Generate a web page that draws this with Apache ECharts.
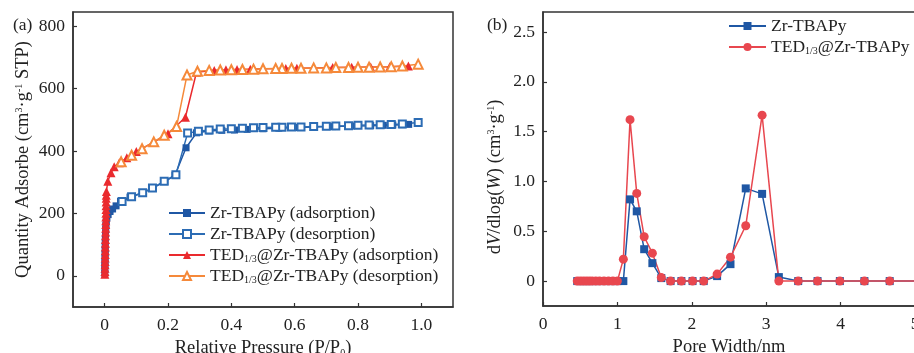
<!DOCTYPE html>
<html>
<head>
<meta charset="utf-8">
<script src="https://cdn.jsdelivr.net/npm/echarts@6/dist/echarts.min.js"></script>
<style>
  html, body { margin: 0; padding: 0; background: #fff; }
  #main { width: 914px; height: 353px; }
</style>
</head>
<body>
<div id="main"></div>
<script>
// (a) N2 isotherms: relative pressure P/P0 and quantity adsorbed
var zrAdsP = [0.0004, 0.0006, 0.0008, 0.001, 0.0012, 0.0014, 0.0016, 0.0018, 0.002, 0.0024, 0.0028, 0.0034, 0.004, 0.005, 0.007, 0.011, 0.017, 0.025, 0.036, 0.05, 0.08, 0.12, 0.15, 0.19, 0.222, 0.257, 0.29, 0.33, 0.37, 0.41, 0.45, 0.50, 0.55, 0.60, 0.66, 0.72, 0.78, 0.84, 0.88, 0.91, 0.94, 0.96];
var zrAdsQ = [8, 20, 33, 46, 59, 72, 85, 98, 111, 124, 137, 150, 162, 174, 185, 196, 206, 214, 224, 238, 252, 266, 280, 302, 322, 410, 458, 464, 466, 467, 469, 471, 473, 475, 477, 478, 480, 481, 482, 483, 484, 485];
var zrDesP = [0.99, 0.94, 0.905, 0.87, 0.835, 0.80, 0.77, 0.73, 0.70, 0.66, 0.62, 0.59, 0.56, 0.54, 0.50, 0.47, 0.435, 0.40, 0.365, 0.33, 0.296, 0.262, 0.225, 0.188, 0.151, 0.12, 0.085, 0.055];
var zrDesQ = [491, 486, 485, 484, 483, 482, 481, 480, 479, 478, 477, 477, 476, 476, 475, 474, 473, 471, 470, 467, 463, 457, 324, 303, 281, 266, 253, 238];
var tedAdsP = [0.0006, 0.0008, 0.001, 0.0012, 0.0014, 0.0016, 0.0018, 0.002, 0.0022, 0.0024, 0.0026, 0.0028, 0.003, 0.0032, 0.0034, 0.0036, 0.0038, 0.004, 0.0042, 0.0044, 0.0046, 0.0048, 0.005, 0.0055, 0.01, 0.02, 0.03, 0.046, 0.07, 0.10, 0.155, 0.20, 0.255, 0.29, 0.346, 0.383, 0.418, 0.46, 0.50, 0.572, 0.607, 0.66, 0.72, 0.78, 0.84, 0.90, 0.959];
var tedAdsQ = [5, 14, 24, 35, 46, 57, 68, 80, 92, 104, 116, 128, 140, 152, 164, 176, 188, 200, 212, 224, 236, 248, 258, 270, 303, 330, 349, 362, 378, 398, 428, 455, 508, 652, 658, 660, 661, 662, 663, 664, 665, 666, 667, 668, 669, 670, 672];
var tedDesP = [0.99, 0.94, 0.905, 0.87, 0.835, 0.80, 0.77, 0.73, 0.70, 0.66, 0.62, 0.59, 0.56, 0.54, 0.50, 0.47, 0.435, 0.40, 0.365, 0.33, 0.293, 0.26, 0.227, 0.188, 0.155, 0.118, 0.085, 0.052];
var tedDesQ = [678, 672, 670, 669, 668, 668, 667, 667, 666, 666, 665, 665, 664, 664, 663, 662, 661, 660, 659, 658, 655, 643, 478, 450, 429, 407, 386, 365];

// (b) pore size distribution
var poreWidth = [0.46, 0.50, 0.54, 0.58, 0.62, 0.66, 0.71, 0.76, 0.82, 0.88, 0.94, 1.00, 1.08, 1.17, 1.26, 1.36, 1.47, 1.59, 1.715, 1.86, 2.01, 2.16, 2.34, 2.52, 2.725, 2.945, 3.17, 3.43, 3.69, 3.99, 4.32, 4.66, 5.05];
var zrPsd = [0, 0, 0, 0, 0, 0, 0, 0, 0, 0, 0, 0, 0, 0.82, 0.70, 0.32, 0.18, 0.03, 0, 0, 0, 0, 0.05, 0.17, 0.93, 0.875, 0.04, 0, 0, 0, 0, 0, 0];
var tedPsd = [0, 0, 0, 0, 0, 0, 0, 0, 0, 0, 0, 0, 0.22, 1.62, 0.88, 0.445, 0.28, 0.035, 0, 0, 0, 0, 0.07, 0.24, 0.555, 1.665, 0, 0, 0, 0, 0, 0, 0];

var isoTicksX = [0, 0.2, 0.4, 0.6, 0.8, 1.0];
var isoTicksY = [0, 200, 400, 600, 800];
var psdTicksY = [0, 0.5, 1.0, 1.5, 2.0, 2.5];

var FONT = "'Liberation Serif', 'Times New Roman', serif";
var BLUE = '#1f57a4';
var BLUE2 = '#2c6cb4';
var RED = '#ea2a2e';
var ORANGE = '#f5893a';
var PINK = '#e8474f';

function pairs(xs, ys) {
    return xs.map(function (x, i) { return [x, ys[i]]; });
}

function tedName(name) {
    return name.replace('TED1/3', 'TED{sub|1/3}');
}

var richText = {
    sub: { fontSize: 10, fontFamily: FONT, color: '#222', verticalAlign: 'bottom', padding: [8, 0, 0, 0] },
    sup: { fontSize: 10, fontFamily: FONT, color: '#222', verticalAlign: 'top', padding: [0, 0, 8, 0] },
    i: { fontSize: 18.5, fontFamily: FONT, color: '#222', fontStyle: 'italic' }
};

var axisCommon = {
    axisLine: { show: true, onZero: false, lineStyle: { color: '#333', width: 1.5 } },
    axisTick: { show: true, inside: true, length: 4, lineStyle: { color: '#333', width: 1.2 } },
    splitLine: { show: false },
    axisLabel: { color: '#222', fontSize: 17.5, fontFamily: FONT },
    nameTextStyle: { color: '#222', fontSize: 18.5, fontFamily: FONT, rich: richText }
};

function ax(extra) {
    return echarts.util.merge(echarts.util.clone(axisCommon), extra, true);
}

var chart = echarts.init(document.getElementById('main'));

var option = {
    backgroundColor: '#fff',
    animation: false,
    title: [
        { text: '(a)', left: 8, top: 11, textStyle: { fontSize: 17.5, fontWeight: 'normal', fontFamily: FONT, color: '#222' } },
        { text: '(b)', left: 482, top: 11, textStyle: { fontSize: 17.5, fontWeight: 'normal', fontFamily: FONT, color: '#222' } }
    ],
    grid: [
        { left: 73, top: 12, right: 461, bottom: 46, outerBoundsMode: 'none', containLabel: false, show: true, borderColor: '#333', borderWidth: 1.5, backgroundColor: 'transparent' },
        { left: 543, top: 12, right: -1, bottom: 47, outerBoundsMode: 'none', containLabel: false, show: true, borderColor: '#333', borderWidth: 1.5, backgroundColor: 'transparent' }
    ],
    legend: [
        {
            data: ['Zr-TBAPy (adsorption)', 'Zr-TBAPy (desorption)', 'TED1/3@Zr-TBAPy (adsorption)', 'TED1/3@Zr-TBAPy (desorption)'],
            orient: 'vertical', left: 163, top: 199, itemWidth: 36, itemHeight: 10, itemGap: 3,
            formatter: tedName,
            textStyle: { fontSize: 17.5, fontFamily: FONT, color: '#222', rich: richText }
        },
        {
            data: ['Zr-TBAPy', 'TED1/3@Zr-TBAPy'],
            orient: 'vertical', left: 723, top: 12, itemWidth: 37, itemHeight: 10, itemGap: 3,
            formatter: tedName,
            textStyle: { fontSize: 17.5, fontFamily: FONT, color: '#222', rich: richText }
        }
    ],
    xAxis: [
        ax({
            gridIndex: 0, type: 'value', min: -0.1, max: 1.1,
            name: 'Relative Pressure (P/P{sub|0})', nameLocation: 'middle', nameGap: 25,
            axisLabel: { margin: 9, customValues: isoTicksX, formatter: function (v) { return v === 0 ? '0' : v.toFixed(1); } },
            axisTick: { customValues: isoTicksX }
        }),
        ax({
            gridIndex: 1, type: 'value', min: 0, max: 5, interval: 1,
            name: 'Pore Width/nm', nameLocation: 'middle', nameGap: 25,
            axisLabel: { margin: 9 }
        })
    ],
    yAxis: [
        ax({
            gridIndex: 0, type: 'value', min: -100, max: 845,
            name: 'Quantity Adsorbe (cm{sup|3}·g{sup|-1} STP)', nameLocation: 'middle', nameGap: 40,
            axisLabel: { margin: 8, customValues: isoTicksY },
            axisTick: { customValues: isoTicksY }
        }),
        ax({
            gridIndex: 1, type: 'value', min: -0.25, max: 2.7,
            name: 'd{i|V}/dlog({i|W}) (cm{sup|3}·g{sup|-1})', nameLocation: 'middle', nameGap: 38,
            nameTextStyle: { padding: [0, 36, 0, 0] },
            axisLabel: { margin: 8, customValues: psdTicksY, formatter: function (v) { return v === 0 ? '0' : v.toFixed(1); } },
            axisTick: { customValues: psdTicksY }
        })
    ],
    series: [
        {
            name: 'Zr-TBAPy (adsorption)', type: 'line', xAxisIndex: 0, yAxisIndex: 0,
            data: pairs(zrAdsP, zrAdsQ), symbol: 'rect', symbolSize: 7,
            lineStyle: { color: BLUE, width: 1.5 }, itemStyle: { color: BLUE }
        },
        {
            name: 'Zr-TBAPy (desorption)', type: 'line', xAxisIndex: 0, yAxisIndex: 0,
            data: pairs(zrDesP, zrDesQ), symbol: 'emptyRect', symbolSize: 7,
            lineStyle: { color: BLUE2, width: 1.5 }, itemStyle: { color: BLUE2, borderWidth: 1.5 }
        },
        {
            name: 'TED1/3@Zr-TBAPy (adsorption)', type: 'line', xAxisIndex: 0, yAxisIndex: 0,
            data: pairs(tedAdsP, tedAdsQ), symbol: 'triangle', symbolSize: 9,
            lineStyle: { color: RED, width: 1.5 }, itemStyle: { color: RED }
        },
        {
            name: 'TED1/3@Zr-TBAPy (desorption)', type: 'line', xAxisIndex: 0, yAxisIndex: 0,
            data: pairs(tedDesP, tedDesQ), symbol: 'emptyTriangle', symbolSize: 9,
            lineStyle: { color: ORANGE, width: 1.5 }, itemStyle: { color: ORANGE, borderWidth: 1.5 }
        },
        {
            name: 'Zr-TBAPy', type: 'line', xAxisIndex: 1, yAxisIndex: 1,
            data: pairs(poreWidth, zrPsd), symbol: 'rect', symbolSize: 8,
            lineStyle: { color: BLUE, width: 1.5 }, itemStyle: { color: BLUE }
        },
        {
            name: 'TED1/3@Zr-TBAPy', type: 'line', xAxisIndex: 1, yAxisIndex: 1,
            data: pairs(poreWidth, tedPsd), symbol: 'circle', symbolSize: 9,
            lineStyle: { color: PINK, width: 1.5 }, itemStyle: { color: PINK }
        }
    ]
};

chart.setOption(option);
</script>
</body>
</html>
